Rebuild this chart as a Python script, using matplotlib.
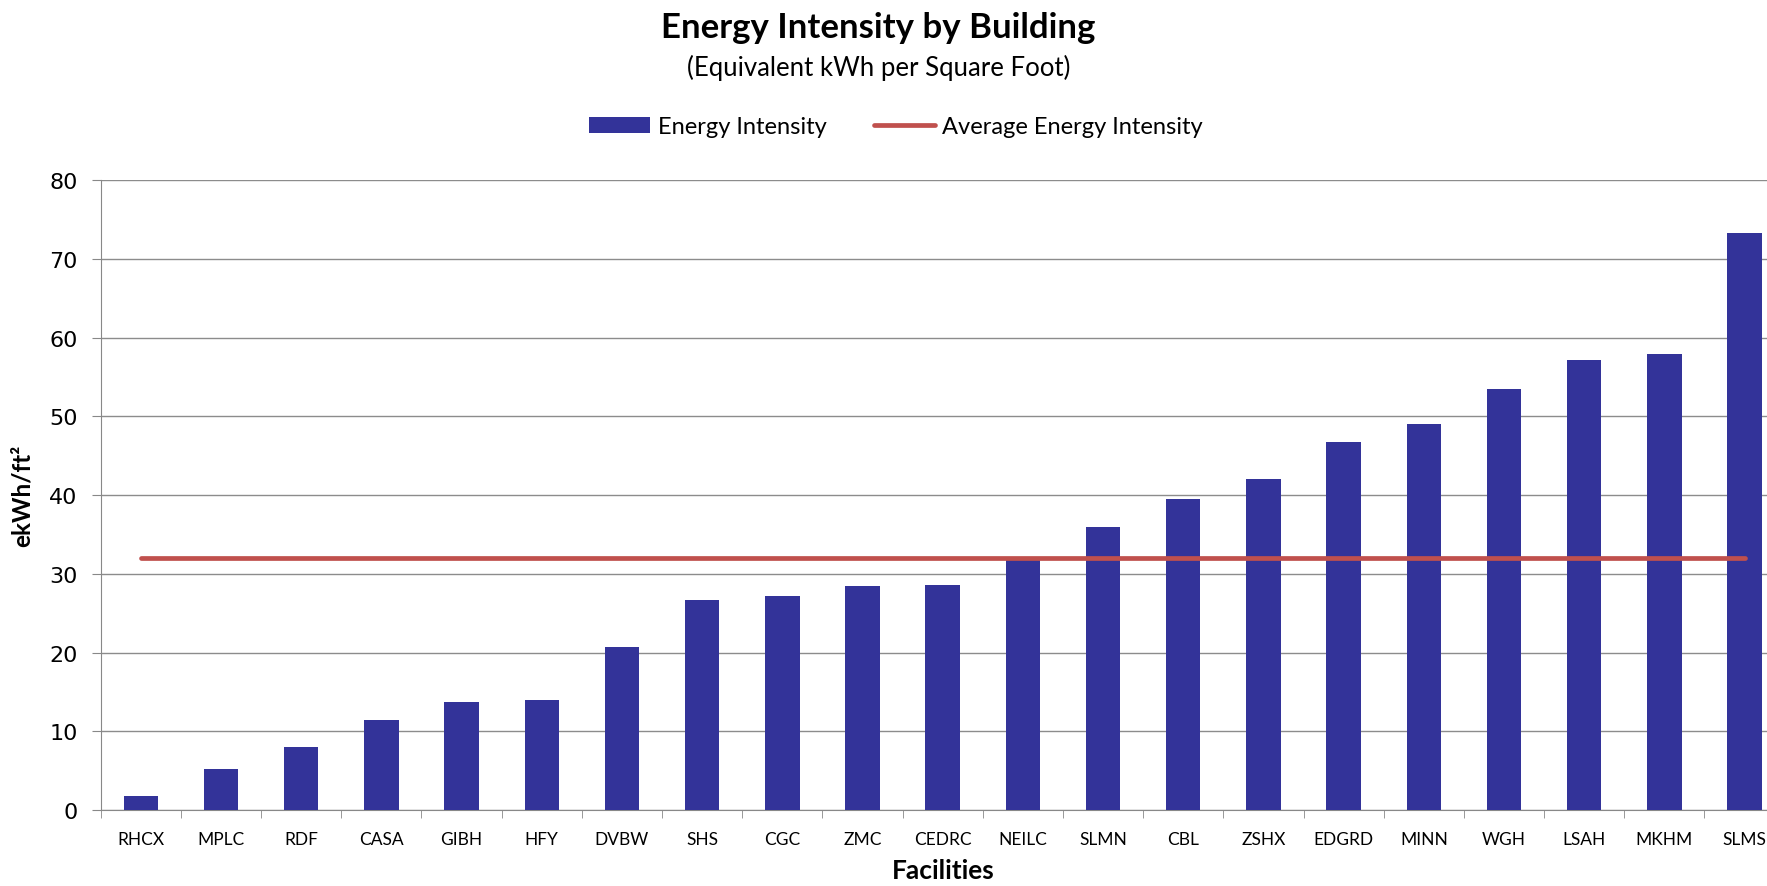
import matplotlib.pyplot as plt

facilities = ['RHCX', 'MPLC', 'RDF', 'CASA', 'GIBH', 'HFY', 'DVBW', 'SHS', 'CGC', 'ZMC', 'CEDRC',
              'NEILC', 'SLMN', 'CBL', 'ZSHX', 'EDGRD', 'MINN', 'WGH', 'LSAH', 'MKHM', 'SLMS']
intensity = [1.8, 5.2, 8.0, 11.4, 13.7, 14.0, 20.7, 26.7, 27.2, 28.5, 28.6,
             32.0, 36.0, 39.5, 42.1, 46.7, 49.0, 53.5, 57.1, 57.9, 73.3]
average = [32.0] * len(facilities)

fig = plt.figure(figsize=(17.67, 8.87), dpi=100)
# the plot area runs past the right edge of the picture, as in the original
ax = fig.add_axes([0.057, 0.0857, 0.953, 0.710])

x = list(range(len(facilities)))
bars = ax.bar(x, intensity, width=0.43, color='#333399', label='Energy Intensity', zorder=3)
line, = ax.plot(x, average, color='#C0504D', lw=3.4, solid_capstyle='round', label='Average Energy Intensity', zorder=4)

ax.set_xlim(-0.5, len(facilities) - 0.5)
ax.set_ylim(0, 80)
ax.set_yticks(range(0, 81, 10))
ax.set_xticks(x)
ax.set_xticklabels(facilities, family='Lato', fontsize=12.5)
ax.set_xticks([i - 0.5 for i in range(len(facilities) + 1)], minor=True)
ax.tick_params(axis='x', which='major', length=0, pad=15)
ax.tick_params(axis='x', which='minor', length=6, color='#888888')
ax.tick_params(axis='y', length=6.5, color='#888888', labelsize=16, pad=10)
ax.grid(axis='y', color='#8c8c8c', lw=1, zorder=0)
for s in ['top', 'right']:
    ax.spines[s].set_visible(False)
for s in ['left', 'bottom']:
    ax.spines[s].set_color('#888888')

ax.set_ylabel('ekWh/ft²', family='Lato', fontweight='bold', fontsize=17.5)
ax.yaxis.set_label_coords(-0.040, 0.5)
fig.text(0.534, 0.018, 'Facilities', family='Lato', fontweight='bold', fontsize=19, ha='center', va='center')

fig.text(0.497, 0.968, 'Energy Intensity by Building', family='Lato', fontweight='bold', fontsize=25, ha='center', va='center')
fig.text(0.497, 0.923, '(Equivalent kWh per Square Foot)', family='Lato', fontsize=18.5, ha='center', va='center')
fig.legend([bars, line], ['Energy Intensity', 'Average Energy Intensity'],
           loc='center', bbox_to_anchor=(0.507, 0.856), ncol=2, frameon=False,
           prop={'family': 'Lato', 'size': 17}, handlelength=2.6, columnspacing=2.0, handletextpad=0.3)

plt.savefig('out.png', dpi=100)
